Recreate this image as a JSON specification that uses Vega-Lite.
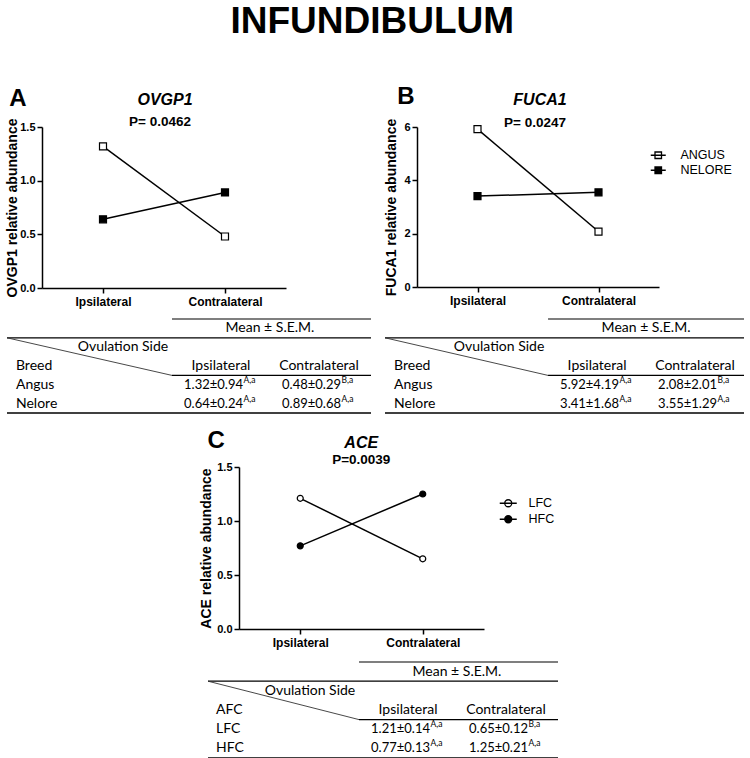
{
 "$schema": "https://vega.github.io/schema/vega-lite/v6.json",
 "padding": {"left": 0, "top": 3, "right": 0, "bottom": 0},
 "title": {"text": "INFUNDIBULUM", "fontSize": 37, "fontStyle": "normal", "fontWeight": "bold", "anchor": "middle", "offset": 44, "frame": "bounds"},
 "spacing": 15,
 "resolve": {"scale": {"fill": "independent"}, "legend": {"fill": "independent"}},
 "vconcat": [
  {"spacing": 11,
   "resolve": {"scale": {"fill": "independent"}, "legend": {"fill": "independent"}},
   "vconcat": [
   {"spacing": 0,
    "resolve": {"scale": {"fill": "independent"}, "legend": {"fill": "independent"}},
    "hconcat": [
    {"width": 5, "height": 1, "data": {"values": []}, "mark": "point"},
    {"width": 244, "height": 161,
     "data": {"values": [
      {"side": "Ipsilateral", "breed": "ANGUS", "value": 1.32},
      {"side": "Contralateral", "breed": "ANGUS", "value": 0.48},
      {"side": "Ipsilateral", "breed": "NELORE", "value": 0.64},
      {"side": "Contralateral", "breed": "NELORE", "value": 0.89}]},
     "layer": [
      {"mark": {"type": "line", "color": "black", "strokeWidth": 1.5},
       "encoding": {
        "x": {"field": "side", "type": "nominal", "scale": {"type": "point", "domain": ["Ipsilateral", "Contralateral"], "padding": 0.5}, "axis": {"title": null, "labelAngle": 0}},
        "y": {"field": "value", "type": "quantitative", "scale": {"domain": [0, 1.5], "nice": false}, "axis": {"values": [0, 0.5, 1, 1.5], "format": ".1f", "title": "OVGP1 relative abundance"}},
        "detail": {"field": "breed", "type": "nominal"}}},
      {"mark": {"type": "point", "shape": "square", "size": 49, "filled": true, "stroke": "black", "strokeWidth": 1.2, "opacity": 1},
       "encoding": {
        "x": {"field": "side", "type": "nominal"},
        "y": {"field": "value", "type": "quantitative"},
        "fill": {"field": "breed", "type": "nominal", "scale": {"domain": ["ANGUS", "NELORE"], "range": ["white", "black"]}, "legend": null}}},
      {"data": {"values": [{"panel": "A", "gene": "OVGP1", "p": "P= 0.0462"}]},
       "layer": [
        {"mark": {"type": "text", "fontSize": 24, "fontWeight": "bold", "dx": -85, "dy": -28, "align": "center", "baseline": "middle", "color": "black"},
         "encoding": {"x": {"datum": "Ipsilateral"}, "y": {"datum": 1.5}, "text": {"field": "panel"}}},
        {"mark": {"type": "text", "fontSize": 16, "fontWeight": "bold", "fontStyle": "italic", "dx": 62, "dy": -27, "align": "center", "baseline": "middle", "color": "black"},
         "encoding": {"x": {"datum": "Ipsilateral"}, "y": {"datum": 1.5}, "text": {"field": "gene"}}},
        {"mark": {"type": "text", "fontSize": 13.5, "fontWeight": "bold", "dx": 57, "dy": -5, "align": "center", "baseline": "middle", "color": "black"},
         "encoding": {"x": {"datum": "Ipsilateral"}, "y": {"datum": 1.5}, "text": {"field": "p"}}}
       ]}
     ]},
    {"width": 98, "height": 1, "data": {"values": []}, "mark": "point"},
    {"width": 242, "height": 160,
     "data": {"values": [
      {"side": "Ipsilateral", "breed": "ANGUS", "value": 5.92},
      {"side": "Contralateral", "breed": "ANGUS", "value": 2.08},
      {"side": "Ipsilateral", "breed": "NELORE", "value": 3.41},
      {"side": "Contralateral", "breed": "NELORE", "value": 3.55}]},
     "layer": [
      {"mark": {"type": "line", "color": "black", "strokeWidth": 1.5},
       "encoding": {
        "x": {"field": "side", "type": "nominal", "scale": {"type": "point", "domain": ["Ipsilateral", "Contralateral"], "padding": 0.5}, "axis": {"title": null, "labelAngle": 0}},
        "y": {"field": "value", "type": "quantitative", "scale": {"domain": [0, 6], "nice": false}, "axis": {"values": [0, 2, 4, 6], "format": "d", "title": "FUCA1 relative abundance", "titlePadding": 5}},
        "detail": {"field": "breed", "type": "nominal"}}},
      {"mark": {"type": "point", "shape": "square", "size": 49, "filled": true, "stroke": "black", "strokeWidth": 1.2, "opacity": 1},
       "encoding": {
        "x": {"field": "side", "type": "nominal"},
        "y": {"field": "value", "type": "quantitative"},
        "fill": {"field": "breed", "type": "nominal", "scale": {"domain": ["ANGUS", "NELORE"], "range": ["white", "black"]},
         "legend": {"orient": "none", "legendX": 235, "legendY": 22, "title": null, "symbolType": "M-1.5,0H1.5M-0.65,-0.65H0.65V0.65H-0.65Z", "symbolSize": 100, "symbolStrokeColor": "black", "symbolStrokeWidth": 1.3, "symbolOpacity": 1, "labelFont": "Liberation Sans", "labelFontSize": 12.5, "labelColor": "black", "labelOffset": 16, "rowPadding": 2, "padding": 0}}}},
      {"data": {"values": [{"panel": "B", "gene": "FUCA1", "p": "P= 0.0247"}]},
       "layer": [
        {"mark": {"type": "text", "fontSize": 24, "fontWeight": "bold", "dx": -71.5, "dy": -30, "align": "center", "baseline": "middle", "color": "black"},
         "encoding": {"x": {"datum": "Ipsilateral"}, "y": {"datum": 6}, "text": {"field": "panel"}}},
        {"mark": {"type": "text", "fontSize": 16, "fontWeight": "bold", "fontStyle": "italic", "dx": 62.5, "dy": -27, "align": "center", "baseline": "middle", "color": "black"},
         "encoding": {"x": {"datum": "Ipsilateral"}, "y": {"datum": 6}, "text": {"field": "gene"}}},
        {"mark": {"type": "text", "fontSize": 13.5, "fontWeight": "bold", "dx": 57.5, "dy": -4, "align": "center", "baseline": "middle", "color": "black"},
         "encoding": {"x": {"datum": "Ipsilateral"}, "y": {"datum": 6}, "text": {"field": "p"}}}
       ]}
     ]}
   ]},
   {"spacing": 0,
    "hconcat": [
    {"width": 5.5, "height": 1, "data": {"values": []}, "mark": "point"},
    {"width": 364, "height": 94,
     "layer": [
      {"data": {"values": [{"row": "ovul"}]}, "mark": {"type": "rule", "color": "black", "strokeWidth": 1.3},
       "encoding": {"y": {"field": "row", "type": "nominal", "bandPosition": 0, "scale": {"type": "band", "domain": ["mean", "ovul", "head", "Angus", "Nelore"], "paddingInner": 0, "paddingOuter": 0}, "axis": null}}},
      {"data": {"values": [{"row": "Nelore"}]}, "mark": {"type": "rule", "color": "black", "strokeWidth": 1.3},
       "encoding": {"y": {"field": "row", "type": "nominal", "bandPosition": 1}}},
      {"data": {"values": [{"row": "mean", "col": "Ipsilateral"}, {"row": "Angus", "col": "Ipsilateral"}]}, "mark": {"type": "rule", "color": "black", "strokeWidth": 1.1},
       "encoding": {
        "x": {"field": "col", "type": "nominal", "bandPosition": 0, "scale": {"type": "band", "domain": ["label", "Ipsilateral", "Contralateral"], "paddingInner": 0, "paddingOuter": 0.357, "align": 0.957}, "axis": null},
        "x2": {"value": "width"},
        "y": {"field": "row", "type": "nominal", "bandPosition": 0}}},
      {"data": {"values": [{"row": "Angus", "row2": "ovul", "col": "Ipsilateral"}]}, "mark": {"type": "rule", "color": "#333333", "strokeWidth": 0.9},
       "encoding": {
        "x": {"field": "col", "type": "nominal", "bandPosition": 0},
        "x2": {"value": 0},
        "y": {"field": "row", "type": "nominal", "bandPosition": 0},
        "y2": {"field": "row2", "bandPosition": 0}}},
      {"data": {"values": [{"row": "ovul", "col": "label", "text": "Ovulation Side"}, {"row": "head", "col": "Ipsilateral", "text": "Ipsilateral"}, {"row": "head", "col": "Contralateral", "text": "Contralateral"}]},
       "mark": {"type": "text", "font": "Lato", "fontSize": 14, "color": "black", "align": "center", "baseline": "middle"},
       "encoding": {"x": {"field": "col", "type": "nominal", "bandPosition": 0.5}, "y": {"field": "row", "type": "nominal", "bandPosition": 0.5}, "text": {"field": "text"}}},
      {"data": {"values": [{"row": "mean", "col": "Contralateral", "text": "Mean ± S.E.M."}]},
       "mark": {"type": "text", "font": "Lato", "fontSize": 14, "color": "black", "align": "center", "baseline": "middle"},
       "encoding": {"x": {"field": "col", "type": "nominal", "bandPosition": 0}, "y": {"field": "row", "type": "nominal", "bandPosition": 0.5}, "text": {"field": "text"}}},
      {"data": {"values": [{"row": "head", "col": "label", "text": "Breed"}, {"row": "Angus", "col": "label", "text": "Angus"}, {"row": "Nelore", "col": "label", "text": "Nelore"}]},
       "mark": {"type": "text", "font": "Lato", "fontSize": 14, "color": "black", "align": "left", "baseline": "middle", "dx": -58},
       "encoding": {"x": {"field": "col", "type": "nominal", "bandPosition": 0}, "y": {"field": "row", "type": "nominal", "bandPosition": 0.5}, "text": {"field": "text"}}},
      {"data": {"values": [
        {"row": "Angus", "col": "Ipsilateral", "text": "1.32±0.94", "sup": "A,a"},
        {"row": "Angus", "col": "Contralateral", "text": "0.48±0.29", "sup": "B,a"},
        {"row": "Nelore", "col": "Ipsilateral", "text": "0.64±0.24", "sup": "A,a"},
        {"row": "Nelore", "col": "Contralateral", "text": "0.89±0.68", "sup": "A,a"}]},
       "layer": [
        {"mark": {"type": "text", "font": "Lato", "fontSize": 13, "color": "black", "align": "right", "baseline": "middle", "dx": 22},
         "encoding": {"x": {"field": "col", "type": "nominal", "bandPosition": 0.5}, "y": {"field": "row", "type": "nominal", "bandPosition": 0.5}, "text": {"field": "text"}}},
        {"mark": {"type": "text", "font": "Lato", "fontSize": 8.5, "color": "black", "align": "left", "baseline": "middle", "dx": 22.5, "dy": -5},
         "encoding": {"x": {"field": "col", "type": "nominal", "bandPosition": 0.5}, "y": {"field": "row", "type": "nominal", "bandPosition": 0.5}, "text": {"field": "sup"}}}
       ]}
     ]},
    {"width": 11.5, "height": 1, "data": {"values": []}, "mark": "point"},
    {"width": 359, "height": 94,
     "layer": [
      {"data": {"values": [{"row": "ovul"}]}, "mark": {"type": "rule", "color": "black", "strokeWidth": 1.3},
       "encoding": {"y": {"field": "row", "type": "nominal", "bandPosition": 0, "scale": {"type": "band", "domain": ["mean", "ovul", "head", "Angus", "Nelore"], "paddingInner": 0, "paddingOuter": 0}, "axis": null}}},
      {"data": {"values": [{"row": "Nelore"}]}, "mark": {"type": "rule", "color": "black", "strokeWidth": 1.3},
       "encoding": {"y": {"field": "row", "type": "nominal", "bandPosition": 1}}},
      {"data": {"values": [{"row": "mean", "col": "Ipsilateral"}, {"row": "Angus", "col": "Ipsilateral"}]}, "mark": {"type": "rule", "color": "black", "strokeWidth": 1.1},
       "encoding": {
        "x": {"field": "col", "type": "nominal", "bandPosition": 0, "scale": {"type": "band", "domain": ["label", "Ipsilateral", "Contralateral"], "paddingInner": 0, "paddingOuter": 0.332, "align": 1}, "axis": null},
        "x2": {"value": "width"},
        "y": {"field": "row", "type": "nominal", "bandPosition": 0}}},
      {"data": {"values": [{"row": "Angus", "row2": "ovul", "col": "Ipsilateral"}]}, "mark": {"type": "rule", "color": "#333333", "strokeWidth": 0.9},
       "encoding": {
        "x": {"field": "col", "type": "nominal", "bandPosition": 0},
        "x2": {"value": 0},
        "y": {"field": "row", "type": "nominal", "bandPosition": 0},
        "y2": {"field": "row2", "bandPosition": 0}}},
      {"data": {"values": [{"row": "ovul", "col": "label", "text": "Ovulation Side"}, {"row": "head", "col": "Ipsilateral", "text": "Ipsilateral"}, {"row": "head", "col": "Contralateral", "text": "Contralateral"}]},
       "mark": {"type": "text", "font": "Lato", "fontSize": 14, "color": "black", "align": "center", "baseline": "middle"},
       "encoding": {"x": {"field": "col", "type": "nominal", "bandPosition": 0.5}, "y": {"field": "row", "type": "nominal", "bandPosition": 0.5}, "text": {"field": "text"}}},
      {"data": {"values": [{"row": "mean", "col": "Contralateral", "text": "Mean ± S.E.M."}]},
       "mark": {"type": "text", "font": "Lato", "fontSize": 14, "color": "black", "align": "center", "baseline": "middle"},
       "encoding": {"x": {"field": "col", "type": "nominal", "bandPosition": 0}, "y": {"field": "row", "type": "nominal", "bandPosition": 0.5}, "text": {"field": "text"}}},
      {"data": {"values": [{"row": "head", "col": "label", "text": "Breed"}, {"row": "Angus", "col": "label", "text": "Angus"}, {"row": "Nelore", "col": "label", "text": "Nelore"}]},
       "mark": {"type": "text", "font": "Lato", "fontSize": 14, "color": "black", "align": "left", "baseline": "middle", "dx": -56},
       "encoding": {"x": {"field": "col", "type": "nominal", "bandPosition": 0}, "y": {"field": "row", "type": "nominal", "bandPosition": 0.5}, "text": {"field": "text"}}},
      {"data": {"values": [
        {"row": "Angus", "col": "Ipsilateral", "text": "5.92±4.19", "sup": "A,a"},
        {"row": "Angus", "col": "Contralateral", "text": "2.08±2.01", "sup": "B,a"},
        {"row": "Nelore", "col": "Ipsilateral", "text": "3.41±1.68", "sup": "A,a"},
        {"row": "Nelore", "col": "Contralateral", "text": "3.55±1.29", "sup": "A,a"}]},
       "layer": [
        {"mark": {"type": "text", "font": "Lato", "fontSize": 13, "color": "black", "align": "right", "baseline": "middle", "dx": 22},
         "encoding": {"x": {"field": "col", "type": "nominal", "bandPosition": 0.5}, "y": {"field": "row", "type": "nominal", "bandPosition": 0.5}, "text": {"field": "text"}}},
        {"mark": {"type": "text", "font": "Lato", "fontSize": 8.5, "color": "black", "align": "left", "baseline": "middle", "dx": 22.5, "dy": -5},
         "encoding": {"x": {"field": "col", "type": "nominal", "bandPosition": 0.5}, "y": {"field": "row", "type": "nominal", "bandPosition": 0.5}, "text": {"field": "sup"}}}
       ]}
     ]}
   ]}
  ]},
  {"spacing": 13,
   "resolve": {"scale": {"fill": "independent"}, "legend": {"fill": "independent"}},
   "vconcat": [
   {"spacing": 0,
    "resolve": {"scale": {"fill": "independent"}, "legend": {"fill": "independent"}},
    "hconcat": [
    {"width": 199, "height": 1, "data": {"values": []}, "mark": "point"},
    {"width": 245, "height": 162,
     "data": {"values": [
      {"side": "Ipsilateral", "afc": "LFC", "value": 1.21},
      {"side": "Contralateral", "afc": "LFC", "value": 0.65},
      {"side": "Ipsilateral", "afc": "HFC", "value": 0.77},
      {"side": "Contralateral", "afc": "HFC", "value": 1.25}]},
     "layer": [
      {"mark": {"type": "line", "color": "black", "strokeWidth": 1.5},
       "encoding": {
        "x": {"field": "side", "type": "nominal", "scale": {"type": "point", "domain": ["Ipsilateral", "Contralateral"], "padding": 0.5}, "axis": {"title": null, "labelAngle": 0}},
        "y": {"field": "value", "type": "quantitative", "scale": {"domain": [0, 1.5], "nice": false}, "axis": {"values": [0, 0.5, 1, 1.5], "format": ".1f", "title": "ACE relative abundance", "titlePadding": 3}},
        "detail": {"field": "afc", "type": "nominal"}}},
      {"mark": {"type": "point", "shape": "circle", "size": 36, "filled": true, "stroke": "black", "strokeWidth": 1.2, "opacity": 1},
       "encoding": {
        "x": {"field": "side", "type": "nominal"},
        "y": {"field": "value", "type": "quantitative"},
        "fill": {"field": "afc", "type": "nominal", "scale": {"domain": ["LFC", "HFC"], "range": ["white", "black"]},
         "legend": {"orient": "none", "legendX": 263, "legendY": 30, "title": null, "symbolType": "M-1.7,0H1.7M0.7,0A0.7,0.7 0 1 1 -0.7,0A0.7,0.7 0 1 1 0.7,0Z", "symbolSize": 100, "symbolStrokeColor": "black", "symbolStrokeWidth": 1.3, "symbolOpacity": 1, "labelFont": "Liberation Sans", "labelFontSize": 12.5, "labelColor": "black", "labelOffset": 14, "rowPadding": 3, "padding": 0}}}},
      {"data": {"values": [{"panel": "C", "gene": "ACE", "p": "P=0.0039"}]},
       "layer": [
        {"mark": {"type": "text", "fontSize": 24, "fontWeight": "bold", "dx": -84, "dy": -26, "align": "center", "baseline": "middle", "color": "black"},
         "encoding": {"x": {"datum": "Ipsilateral"}, "y": {"datum": 1.5}, "text": {"field": "panel"}}},
        {"mark": {"type": "text", "fontSize": 16, "fontWeight": "bold", "fontStyle": "italic", "dx": 61, "dy": -24, "align": "center", "baseline": "middle", "color": "black"},
         "encoding": {"x": {"datum": "Ipsilateral"}, "y": {"datum": 1.5}, "text": {"field": "gene"}}},
        {"mark": {"type": "text", "fontSize": 13.5, "fontWeight": "bold", "dx": 61, "dy": -7, "align": "center", "baseline": "middle", "color": "black"},
         "encoding": {"x": {"datum": "Ipsilateral"}, "y": {"datum": 1.5}, "text": {"field": "p"}}}
       ]}
     ]}
   ]},
   {"spacing": 0,
    "hconcat": [
    {"width": 206.3, "height": 1, "data": {"values": []}, "mark": "point"},
    {"width": 350, "height": 96,
     "layer": [
      {"data": {"values": [{"row": "ovul"}]}, "mark": {"type": "rule", "color": "black", "strokeWidth": 1.3},
       "encoding": {"y": {"field": "row", "type": "nominal", "bandPosition": 0, "scale": {"type": "band", "domain": ["mean", "ovul", "head", "LFC", "HFC"], "paddingInner": 0, "paddingOuter": 0}, "axis": null}}},
      {"data": {"values": [{"row": "HFC"}]}, "mark": {"type": "rule", "color": "black", "strokeWidth": 1.3},
       "encoding": {"y": {"field": "row", "type": "nominal", "bandPosition": 1}}},
      {"data": {"values": [{"row": "mean", "col": "Ipsilateral"}, {"row": "LFC", "col": "Ipsilateral"}]}, "mark": {"type": "rule", "color": "black", "strokeWidth": 1.1},
       "encoding": {
        "x": {"field": "col", "type": "nominal", "bandPosition": 0, "scale": {"type": "band", "domain": ["label", "Ipsilateral", "Contralateral"], "paddingInner": 0, "paddingOuter": 0.286, "align": 0.946}, "axis": null},
        "x2": {"value": "width"},
        "y": {"field": "row", "type": "nominal", "bandPosition": 0}}},
      {"data": {"values": [{"row": "LFC", "row2": "ovul", "col": "Ipsilateral"}]}, "mark": {"type": "rule", "color": "#333333", "strokeWidth": 0.9},
       "encoding": {
        "x": {"field": "col", "type": "nominal", "bandPosition": 0},
        "x2": {"value": 0},
        "y": {"field": "row", "type": "nominal", "bandPosition": 0},
        "y2": {"field": "row2", "bandPosition": 0}}},
      {"data": {"values": [{"row": "ovul", "col": "label", "text": "Ovulation Side"}, {"row": "head", "col": "Ipsilateral", "text": "Ipsilateral"}, {"row": "head", "col": "Contralateral", "text": "Contralateral"}]},
       "mark": {"type": "text", "font": "Lato", "fontSize": 14, "color": "black", "align": "center", "baseline": "middle"},
       "encoding": {"x": {"field": "col", "type": "nominal", "bandPosition": 0.5}, "y": {"field": "row", "type": "nominal", "bandPosition": 0.5}, "text": {"field": "text"}}},
      {"data": {"values": [{"row": "mean", "col": "Contralateral", "text": "Mean ± S.E.M."}]},
       "mark": {"type": "text", "font": "Lato", "fontSize": 14, "color": "black", "align": "center", "baseline": "middle"},
       "encoding": {"x": {"field": "col", "type": "nominal", "bandPosition": 0}, "y": {"field": "row", "type": "nominal", "bandPosition": 0.5}, "text": {"field": "text"}}},
      {"data": {"values": [{"row": "head", "col": "label", "text": "AFC"}, {"row": "LFC", "col": "label", "text": "LFC"}, {"row": "HFC", "col": "label", "text": "HFC"}]},
       "mark": {"type": "text", "font": "Lato", "fontSize": 14, "color": "black", "align": "left", "baseline": "middle", "dx": -45},
       "encoding": {"x": {"field": "col", "type": "nominal", "bandPosition": 0}, "y": {"field": "row", "type": "nominal", "bandPosition": 0.5}, "text": {"field": "text"}}},
      {"data": {"values": [
        {"row": "LFC", "col": "Ipsilateral", "text": "1.21±0.14", "sup": "A,a"},
        {"row": "LFC", "col": "Contralateral", "text": "0.65±0.12", "sup": "B,a"},
        {"row": "HFC", "col": "Ipsilateral", "text": "0.77±0.13", "sup": "A,a"},
        {"row": "HFC", "col": "Contralateral", "text": "1.25±0.21", "sup": "A,a"}]},
       "layer": [
        {"mark": {"type": "text", "font": "Lato", "fontSize": 13, "color": "black", "align": "right", "baseline": "middle", "dx": 22},
         "encoding": {"x": {"field": "col", "type": "nominal", "bandPosition": 0.5}, "y": {"field": "row", "type": "nominal", "bandPosition": 0.5}, "text": {"field": "text"}}},
        {"mark": {"type": "text", "font": "Lato", "fontSize": 8.5, "color": "black", "align": "left", "baseline": "middle", "dx": 22.5, "dy": -5},
         "encoding": {"x": {"field": "col", "type": "nominal", "bandPosition": 0.5}, "y": {"field": "row", "type": "nominal", "bandPosition": 0.5}, "text": {"field": "sup"}}}
       ]}
     ]}
   ]}
  ]}
 ],
 "config": {
  "font": "Liberation Sans",
  "view": {"stroke": null},
  "axis": {"domainColor": "black", "domainWidth": 1.5, "tickColor": "black", "tickWidth": 1.5, "tickSize": 5, "labelColor": "black", "labelFont": "Liberation Sans", "labelFontWeight": "bold", "labelFontSize": 11, "labelPadding": 2, "titleColor": "black", "titleFont": "Liberation Sans", "titleFontWeight": "bold", "titleFontSize": 14, "titlePadding": 0, "grid": false},
  "axisX": {"labelFontSize": 12, "labelPadding": 3}
 }
}
